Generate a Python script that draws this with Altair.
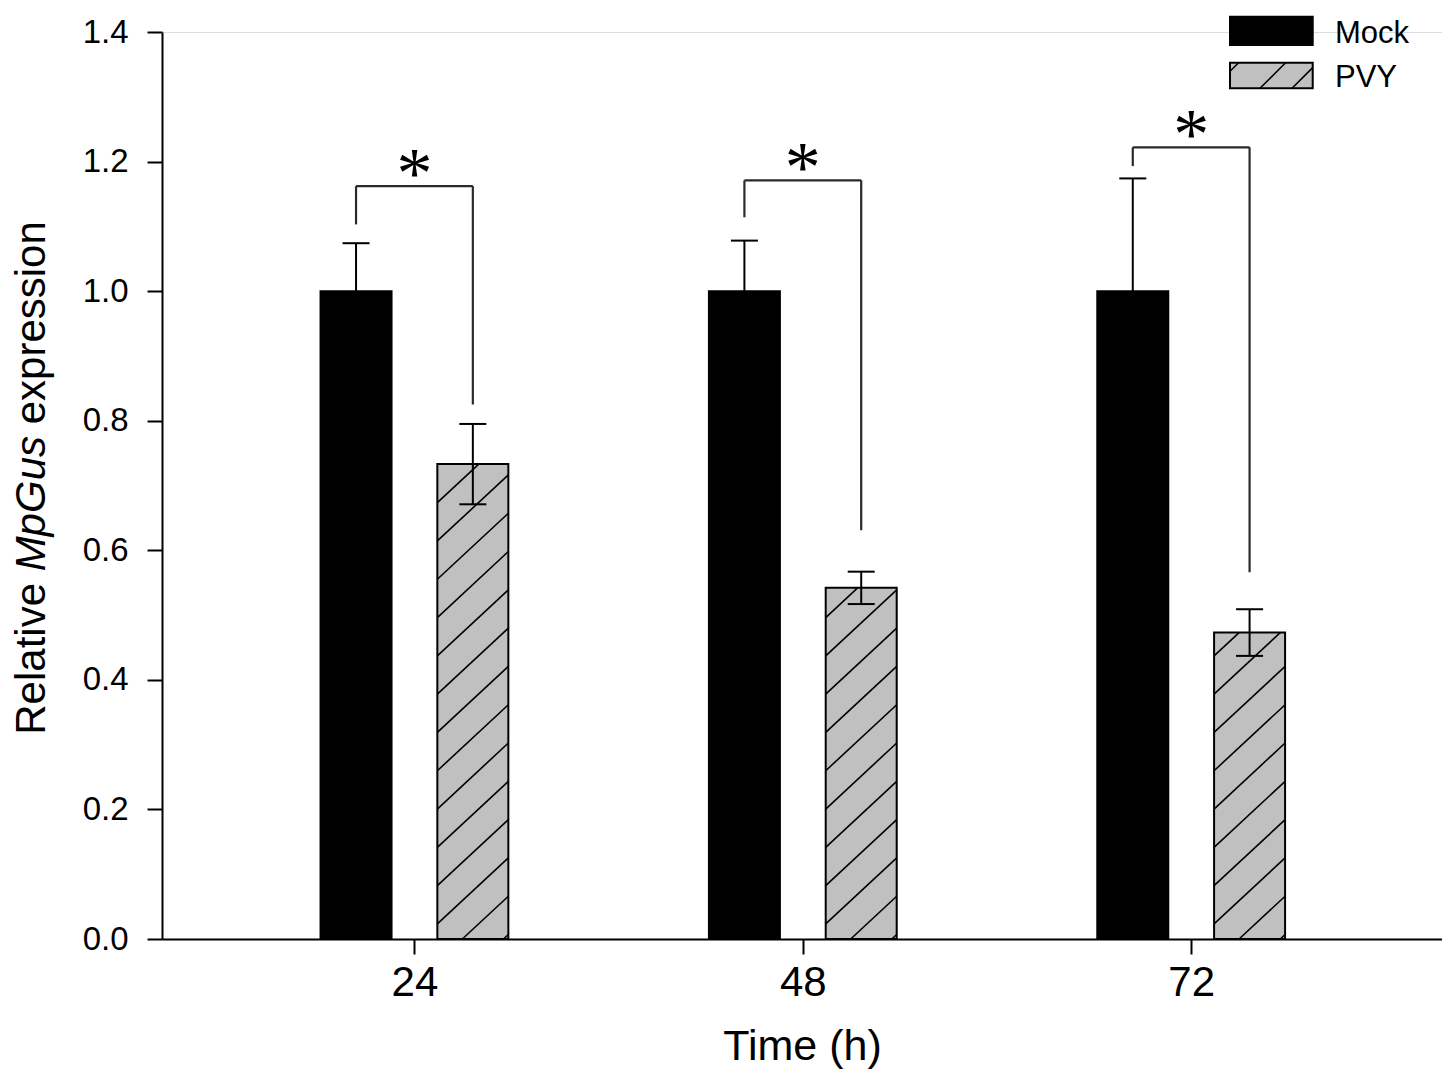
import altair as alt
import pandas as pd
import math

# ---------------- data ----------------
times = [24, 48, 72]
groups = ["Mock", "PVY"]
mock_mean = [1.0, 1.0, 1.0]
mock_err = [0.074, 0.078, 0.174]
pvy_mean = [0.733, 0.542, 0.473]
pvy_err = [0.062, 0.025, 0.036]
bracket_top = [1.162, 1.171, 1.222]
bracket_left_end = [1.103, 1.114, 1.193]
bracket_right_end = [0.825, 0.631, 0.566]
y_ticks = [0.0, 0.2, 0.4, 0.6, 0.8, 1.0, 1.2, 1.4]
x_ticks = times

# ---------------- layout / style constants ----------------
W, H = 1280, 907
XMIN, XMAX = 8.4, 87.5
YMIN, YMAX = 0.0, 1.4
PXH = W / (XMAX - XMIN)      # px per hour
PXV = H / (YMAX - YMIN)      # px per unit
OFF = 58.4 / PXH             # bar centre offset from tick
HALF = 35.5 / PXH            # half bar width
CAP = 13.5 / PXH             # half error-cap width
FONT = "Liberation Sans"
GRAY = "#c0c0c0"

# ---------------- tables ----------------
rows = []
for i, t in enumerate(times):
    for g, m, e, sgn in (("Mock", mock_mean[i], mock_err[i], -1), ("PVY", pvy_mean[i], pvy_err[i], 1)):
        xc = t + sgn * OFF
        rows.append(dict(time=t, group=g, mean=m, err=e, base=0.0,
                         xc=xc, xl=xc - HALF, xr=xc + HALF,
                         cl=xc - CAP, cr=xc + CAP, lo=m - e, hi=m + e))
bars = pd.DataFrame(rows)


def clip_lines(w, h, slope, starts):
    """Diagonal hatch segments inside a w x h box (pixel units, origin bottom-left)."""
    segs = []
    for s in starts:
        x0 = max(s, 0.0)
        h0 = slope * (x0 - s)
        if x0 >= w or h0 >= h:
            continue
        x1 = min(s + h / slope, w)
        h1 = slope * (x1 - s)
        if x1 <= x0:
            continue
        segs.append((x0, h0, x1, h1))
    return segs


hatch_rows = []
SLOPE = 0.93
SP = 38.3 / SLOPE
for _, r in bars[bars.group == "PVY"].iterrows():
    wpx = (r.xr - r.xl) * PXH
    hpx = r["mean"] * PXV
    k0 = -int(math.ceil(hpx / SLOPE / SP)) - 1
    k1 = int(math.ceil(wpx / SP)) + 1
    starts = [25 + k * SP for k in range(k0, k1)]
    for x0, h0, x1, h1 in clip_lines(wpx, hpx, SLOPE, starts):
        hatch_rows.append(dict(x=r.xl + x0 / PXH, x2=r.xl + x1 / PXH, y=h0 / PXV, y2=h1 / PXV))
hatch = pd.DataFrame(hatch_rows)

br_rows = []
for i, t in enumerate(times):
    mc = t - OFF
    pc = t + OFF
    br_rows.append(dict(x=mc, x2=mc, y=bracket_left_end[i], y2=bracket_top[i]))
    br_rows.append(dict(x=mc, x2=pc, y=bracket_top[i], y2=bracket_top[i]))
    br_rows.append(dict(x=pc, x2=pc, y=bracket_right_end[i], y2=bracket_top[i]))
brackets = pd.DataFrame(br_rows)
stars = pd.DataFrame(dict(time=times, top=bracket_top, mark=["*"] * 3))

# ---------------- scales / axes ----------------
xs = alt.Scale(domain=[XMIN, XMAX], nice=False, zero=False)
ys = alt.Scale(domain=[YMIN, YMAX], nice=False, zero=False)
xaxis = alt.Axis(values=x_ticks, format="d", grid=False, tickSize=15, tickWidth=2,
                 domainWidth=2, domainColor="black", tickColor="black",
                 labelFont=FONT, labelFontSize=42, labelColor="black", labelPadding=8,
                 titleFont=FONT, titleFontSize=43, titleFontWeight="normal",
                 titleColor="black", titlePadding=22)
yaxis = alt.Axis(values=y_ticks, format=".1f", grid=False, tickSize=15, tickWidth=2,
                 domainWidth=2, domainColor="black", tickColor="black",
                 labelFont=FONT, labelFontSize=33, labelColor="black", labelPadding=19,
                 title=None)


def X(f):
    return alt.X(f, type="quantitative", scale=xs, axis=xaxis, title="Time (h)")


def Y(f):
    return alt.Y(f, type="quantitative", scale=ys, axis=yaxis, title=None)


bar_layer = alt.Chart(bars).mark_rect(stroke="black", strokeWidth=2).encode(
    x=X("xl"), x2="xr", y=Y("mean"), y2="base",
    fill=alt.Fill("group:N", scale=alt.Scale(domain=groups, range=["black", GRAY]), legend=None),
)
hatch_layer = alt.Chart(hatch).mark_rule(color="black", strokeWidth=1.6).encode(
    x=X("x"), x2="x2", y=Y("y"), y2="y2")
err_layer = alt.Chart(bars).mark_rule(color="black", strokeWidth=2).encode(
    x=X("xc"), y=Y("lo"), y2="hi")
cap_hi = alt.Chart(bars).mark_rule(color="black", strokeWidth=2).encode(
    x=X("cl"), x2="cr", y=Y("hi"))
cap_lo = alt.Chart(bars).mark_rule(color="black", strokeWidth=2).encode(
    x=X("cl"), x2="cr", y=Y("lo"))
br_layer = alt.Chart(brackets).mark_rule(color="#2a2a2a", strokeWidth=2.2).encode(
    x=X("x"), x2="x2", y=Y("y"), y2="y2")
star_layer = alt.Chart(stars).mark_text(font="Liberation Serif", fontSize=72, color="black",
                                        baseline="alphabetic", align="center", dy=11).encode(
    x=X("time"), y=Y("top"), text="mark:N")

# ---------------- y-axis title with italic gene name ----------------
FT = 42
title_parts = ["Relative", "MpGus", "expression"]
em = {"Relative": 3.612, "MpGus": 3.223, "expression": 4.835}
gap = 0.278
total = (em["Relative"] + em["MpGus"] + em["expression"] + 2 * gap) * FT
ystart = 446 + total / 2
title_layers = []
ycur = ystart
for part in title_parts:
    title_layers.append(
        alt.Chart(pd.DataFrame({"t": [part]})).mark_text(
            font=FONT, fontSize=FT, angle=270, align="left", baseline="alphabetic",
            fontStyle="italic" if part == "MpGus" else "normal", color="black"
        ).encode(x=alt.value(-117), y=alt.value(ycur), text="t:N")
    )
    ycur -= (em[part] + gap) * FT

# ---------------- legend (drawn) ----------------
leg = pd.DataFrame({"group": groups})
LX0, LX1 = 1068, 1150.7
leg_rows = {"Mock": (-15.3, 13.0, 10.7), "PVY": (30.7, 56.3, 54.7)}
legend_layers = []
for g, fillc in zip(groups, ["black", GRAY]):
    yt, yb, yl = leg_rows[g]
    d = leg[leg.group == g]
    legend_layers.append(alt.Chart(d).mark_rect(fill=fillc, stroke="black", strokeWidth=2).encode(
        x=alt.value(LX0), x2=alt.value(LX1), y=alt.value(yt), y2=alt.value(yb)))
    legend_layers.append(alt.Chart(d).mark_text(font=FONT, fontSize=31, align="left",
                                                baseline="alphabetic", color="black").encode(
        x=alt.value(1173), y=alt.value(yl), text="group:N"))
yt, yb, _ = leg_rows["PVY"]
for x0, h0, x1, h1 in clip_lines(LX1 - LX0, yb - yt, 1.0, [-17, 30, 62]):
    legend_layers.append(alt.Chart(leg[leg.group == "PVY"]).mark_rule(color="black", strokeWidth=1.6).encode(
        x=alt.value(LX0 + x0), x2=alt.value(LX0 + x1), y=alt.value(yb - h0), y2=alt.value(yb - h1)))

chart = alt.layer(
    bar_layer, hatch_layer, err_layer, cap_hi, cap_lo, br_layer, star_layer,
    *title_layers, *legend_layers
).properties(
    width=W, height=H,
    autosize=alt.AutoSizeParams(type="none"),
    padding={"left": 154, "top": 24, "right": 0, "bottom": 130},
).configure_view(stroke=None).configure(background="white")

chart.save("out.html", embed_options={"renderer": "svg", "actions": False})
